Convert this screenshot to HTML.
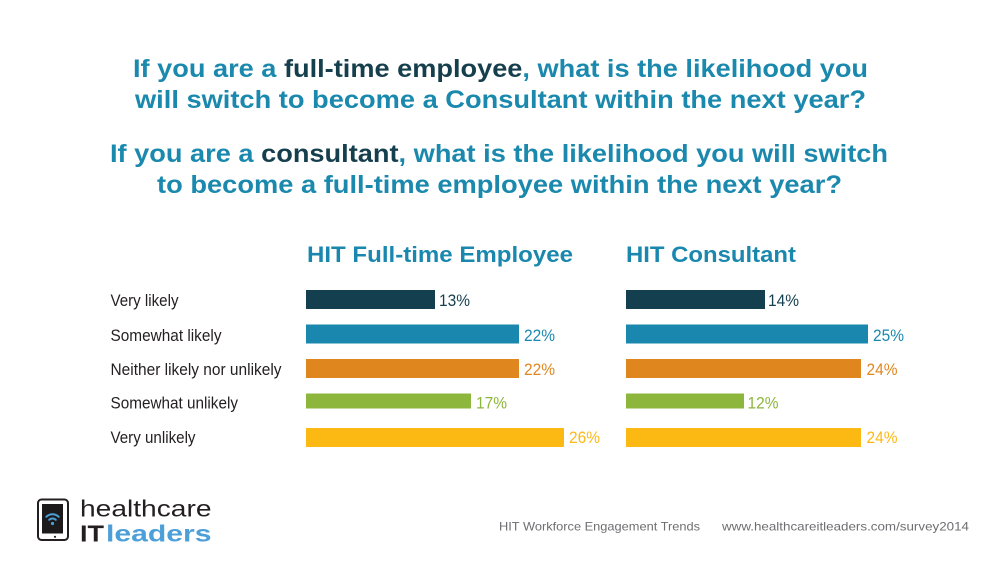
<!DOCTYPE html>
<html>
<head>
<meta charset="utf-8">
<style>
html,body{margin:0;padding:0;background:#fff;}
svg{display:block;}
text{font-family:"Liberation Sans",Arial,sans-serif;}
</style>
</head>
<body>
<svg width="1000" height="575" viewBox="0 0 1000 575" xmlns="http://www.w3.org/2000/svg">
<rect width="1000" height="575" fill="#ffffff"/>

<!-- Titles -->
<g font-weight="bold" font-size="25" fill="#1a89ad">
<text x="133" y="77" textLength="735" lengthAdjust="spacingAndGlyphs">If you are a <tspan fill="#163f4d">full-time employee</tspan>, what is the likelihood you</text>
<text x="135" y="108" textLength="731" lengthAdjust="spacingAndGlyphs">will switch to become a Consultant within the next year?</text>
<text x="110" y="162" textLength="778" lengthAdjust="spacingAndGlyphs">If you are a <tspan fill="#163f4d">consultant</tspan>, what is the likelihood you will switch</text>
<text x="157" y="193" textLength="685" lengthAdjust="spacingAndGlyphs">to become a full-time employee within the next year?</text>
</g>

<!-- Column headers -->
<g font-weight="bold" font-size="22" fill="#1a88ae">
<text x="307" y="262" textLength="266" lengthAdjust="spacingAndGlyphs">HIT Full-time Employee</text>
<text x="626" y="262" textLength="170" lengthAdjust="spacingAndGlyphs">HIT Consultant</text>
</g>

<!-- Row labels -->
<g font-size="17" fill="#231f20">
<text x="110.5" y="306" textLength="68" lengthAdjust="spacingAndGlyphs">Very likely</text>
<text x="110.5" y="341" textLength="111" lengthAdjust="spacingAndGlyphs">Somewhat likely</text>
<text x="110.5" y="375" textLength="171" lengthAdjust="spacingAndGlyphs">Neither likely nor unlikely</text>
<text x="110.5" y="408.5" textLength="127.5" lengthAdjust="spacingAndGlyphs">Somewhat unlikely</text>
<text x="110.5" y="443" textLength="85" lengthAdjust="spacingAndGlyphs">Very unlikely</text>
</g>

<!-- FTE bars -->
<rect x="306" y="290" width="129" height="19" fill="#143f4e"/>
<rect x="306" y="324.5" width="213" height="19" fill="#1a88ae"/>
<rect x="306" y="359" width="213" height="19" fill="#e0861e"/>
<rect x="306" y="393.5" width="165" height="15" fill="#8db63c"/>
<rect x="306" y="428" width="258" height="19" fill="#fdb913"/>

<!-- Consultant bars -->
<rect x="626" y="290" width="139" height="19" fill="#143f4e"/>
<rect x="626" y="324.5" width="242" height="19" fill="#1a88ae"/>
<rect x="626" y="359" width="235" height="19" fill="#e0861e"/>
<rect x="626" y="393.5" width="118" height="15" fill="#8db63c"/>
<rect x="626" y="428" width="235" height="19" fill="#fdb913"/>

<!-- Value labels -->
<g font-size="17">
<text x="439" y="306" fill="#143f4e" textLength="31" lengthAdjust="spacingAndGlyphs">13%</text>
<text x="524" y="341" fill="#1a88ae" textLength="31" lengthAdjust="spacingAndGlyphs">22%</text>
<text x="524" y="375" fill="#e0861e" textLength="31" lengthAdjust="spacingAndGlyphs">22%</text>
<text x="476" y="408.5" fill="#8db63c" textLength="31" lengthAdjust="spacingAndGlyphs">17%</text>
<text x="569" y="443" fill="#fdb913" textLength="31" lengthAdjust="spacingAndGlyphs">26%</text>

<text x="768" y="306" fill="#143f4e" textLength="31" lengthAdjust="spacingAndGlyphs">14%</text>
<text x="873" y="341" fill="#1a88ae" textLength="31" lengthAdjust="spacingAndGlyphs">25%</text>
<text x="866.5" y="375" fill="#e0861e" textLength="31" lengthAdjust="spacingAndGlyphs">24%</text>
<text x="747.5" y="408.5" fill="#8db63c" textLength="31" lengthAdjust="spacingAndGlyphs">12%</text>
<text x="866.5" y="443" fill="#fdb913" textLength="31" lengthAdjust="spacingAndGlyphs">24%</text>
</g>

<!-- Logo icon -->
<rect x="38" y="499.5" width="30" height="40.5" rx="3.5" ry="3.5" fill="none" stroke="#231f20" stroke-width="2"/>
<rect x="42" y="504" width="21" height="29.5" fill="#1c1a1b"/>
<circle cx="55" cy="536.8" r="1.1" fill="#231f20"/>
<g fill="none" stroke="#4a9fd8" stroke-width="2" stroke-linecap="round">
<path d="M 49.2 519.8 A 4.7 4.7 0 0 1 55.8 519.8"/>
<path d="M 46.3 516.8 A 8.8 8.8 0 0 1 58.7 516.8"/>
</g>
<circle cx="52.5" cy="523.5" r="1.6" fill="#4a9fd8"/>

<!-- Logo text -->
<text x="80" y="516.7" font-size="23" fill="#231f20" textLength="131.5" lengthAdjust="spacingAndGlyphs">healthcare</text>
<text x="80" y="541.7" font-size="23" font-weight="bold" fill="#231f20" textLength="24" lengthAdjust="spacingAndGlyphs">IT</text>
<text x="106" y="541.7" font-size="23" font-weight="bold" fill="#4d9fd9" textLength="105.5" lengthAdjust="spacingAndGlyphs">leaders</text>

<!-- Footer -->
<g font-size="12" fill="#6d6e71">
<text x="499" y="530.7" textLength="201" lengthAdjust="spacingAndGlyphs">HIT Workforce Engagement Trends</text>
<text x="722" y="530.7" textLength="247" lengthAdjust="spacingAndGlyphs">www.healthcareitleaders.com/survey2014</text>
</g>
</svg>
</body>
</html>
